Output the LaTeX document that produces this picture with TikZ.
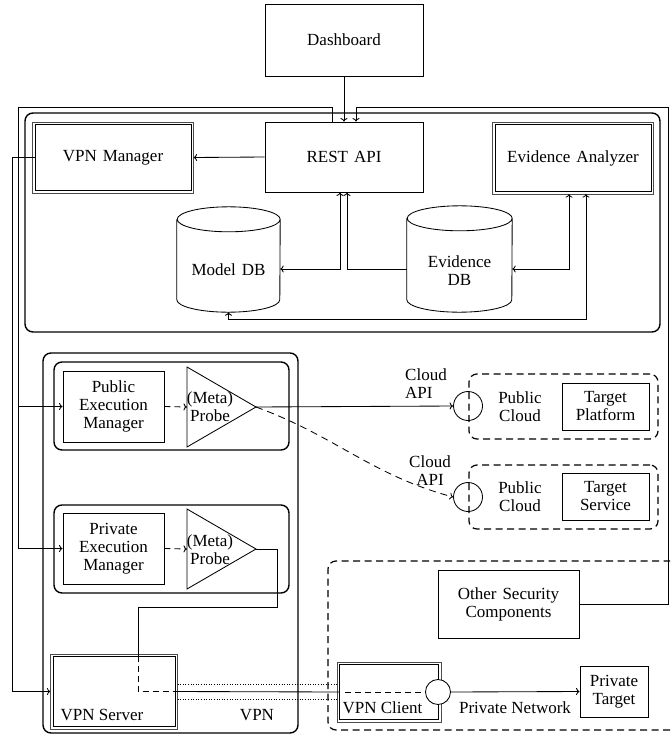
\documentclass[tikz,border=0pt]{standalone}
\usepackage{fontspec}
\setmainfont{Liberation Serif}
\usetikzlibrary{arrows.meta,calc}
\begin{document}
\begin{tikzpicture}[x=1pt,y=1pt,
  every node/.style={font=\fontsize{17}{18}\selectfont, inner sep=0pt, align=center},
  conn/.style={line width=0.85pt},
  arr/.style={conn, -{To[length=3.5pt,width=7pt]}},
  barr/.style={conn, {To[length=3.5pt,width=7pt]}-{To[length=3.5pt,width=7pt]}},
  dsh/.style={dash pattern=on 6pt off 4pt},
  dotl/.style={line width=0.8pt, dash pattern=on 0.8pt off 1.8pt},
  box/.style={draw, line width=0.85pt},
  dbox/.style={draw, line width=0.8pt},
  ring/.style={line width=0.8pt, draw=black!70},
  cont/.style={draw, line width=1.4pt, rounded corners=8pt},
  dcont/.style={draw, line width=1.2pt, rounded corners=8pt, dash pattern=on 7pt off 4.5pt},
  dbnode/.style={inner sep=0pt}
]
\useasboundingbox (0,0) rectangle (670,-736);
\clip (0,0) rectangle (670,-736);
\fill[white] (0,0) rectangle (670,-736);

% containers
\node[cont, minimum width=635, minimum height=219] (core) at (342.5,-222.5) {};
\node[cont, minimum width=255, minimum height=380] (exec) at (170.5,-543) {};
\node[cont, minimum width=235, minimum height=88] (pubbox) at (171.5,-406) {};
\node[cont, minimum width=235, minimum height=88] (privbox) at (171.5,-549) {};
\node[dcont, minimum width=189, minimum height=65] (pc1) at (563.5,-406.5) {};
\node[dcont, minimum width=189, minimum height=64] (pc2) at (563.5,-497) {};
\node[dcont, minimum width=362, minimum height=169] (privnet) at (509,-645.5) {};

% top nodes
\node[box, minimum width=158, minimum height=72] (dash) at (344,-40) {Dashboard};
\node[box, minimum width=158, minimum height=70] (rest) at (344,-157) {REST\hspace{6pt}API};
\node[dbox, minimum width=156, minimum height=66] (vpnm) at (113,-157.5) {VPN\hspace{6pt}Manager};
\draw[ring] ($(vpnm.south west)+(-2.2,-2.2)$) rectangle ($(vpnm.north east)+(2.2,2.2)$);
\node[dbox, minimum width=156, minimum height=67] (evan) at (573,-158) {Evidence\hspace{6pt}Analyzer};
\draw[ring] ($(evan.south west)+(-2.2,-2.2)$) rectangle ($(evan.north east)+(2.2,2.2)$);

% databases
\node[dbnode, minimum width=103, minimum height=105] (mdb) at (228.5,-259.5) {};
\draw[conn] ([yshift=-12.5pt]mdb.north west) -- ([yshift=12.5pt]mdb.south west)
  arc[start angle=180, end angle=360, x radius=51.5pt, y radius=12.5pt]
  -- ([yshift=-12.5pt]mdb.north east)
  arc[start angle=0, end angle=360, x radius=51.5pt, y radius=12.5pt];
\node (mdbt) at (228.5,-270) {Model\hspace{6pt}DB};

\node[dbnode, minimum width=105, minimum height=106] (edb) at (459.5,-259) {};
\draw[conn] ([yshift=-12.5pt]edb.north west) -- ([yshift=12.5pt]edb.south west)
  arc[start angle=180, end angle=360, x radius=52.5pt, y radius=12.5pt]
  -- ([yshift=-12.5pt]edb.north east)
  arc[start angle=0, end angle=360, x radius=52.5pt, y radius=12.5pt];
\node (edbt) at (459.5,-271) {Evidence\\DB};

% execution managers
\node[box, minimum width=101, minimum height=71] (pem) at (113.5,-406.5) {Public\\Execution\\Manager};
\node[box, minimum width=101, minimum height=71] (prem) at (113.5,-548.5) {Private\\Execution\\Manager};

% probes
\coordinate (p1a) at (187,-367);
\coordinate (p1b) at (187,-447);
\coordinate (p1t) at (256,-407);
\coordinate (p1w) at (187,-407);
\draw[conn] (p1a) -- (p1t) -- (p1b) -- cycle;
\node (p1txt) at (210,-407) {(Meta)\\Probe};
\coordinate (p2a) at (187,-509);
\coordinate (p2b) at (187,-589);
\coordinate (p2t) at (256,-549);
\coordinate (p2w) at (187,-549);
\draw[conn] (p2a) -- (p2t) -- (p2b) -- cycle;
\node (p2txt) at (210,-550) {(Meta)\\Probe};

% clouds
\node[draw, conn, circle, minimum size=29] (cloud1) at (468,-406) {};
\node[draw, conn, circle, minimum size=29] (cloud2) at (468,-497) {};
\node[anchor=west, align=left] (capi1) at (405,-384) {Cloud\\API};
\node (capi2) at (430,-471) {Cloud\\API};
\node (pub1) at (520,-407) {Public\\Cloud};
\node (pub2) at (520,-496.5) {Public\\Cloud};
\node[box, minimum width=87, minimum height=47] (tp) at (605.5,-406.5) {Target\\Platform};
\node[box, minimum width=87, minimum height=47] (ts) at (605.5,-496.5) {Target\\Service};

% private network
\node[box, minimum width=141, minimum height=68] (osc) at (508.5,-604) {Other\hspace{6pt}Security\\Components};
\node[box, minimum width=68, minimum height=51] (ptgt) at (614,-691.5) {Private\\Target};
\node (pnet) at (515,-708) {Private Network};

% VPN
\node[dbox, minimum width=122, minimum height=70] (vpns) at (114,-691.5) {};
\draw[ring] ($(vpns.south west)+(-2.2,-2.2)$) rectangle ($(vpns.north east)+(2.2,2.2)$);
\node (vpnst) at (102,-715) {VPN Server};
\node (vpnlab) at (257,-715) {VPN};
\node[dbox, minimum width=99, minimum height=55] (vpnc) at (389,-692) {};
\draw[ring] ($(vpnc.south west)+(-2.2,-2.2)$) rectangle ($(vpnc.north east)+(2.2,2.2)$);
\node (vpnct) at (382.5,-708) {VPN Client};
\node[draw, conn, circle, fill=white, minimum size=25] (vcirc) at (438,-692) {};

% bend coordinates
\coordinate (ltop) at (18,-107);
\coordinate (rtop) at (668,-107);
\coordinate (lleft) at (12,-157);
\coordinate (q1) at (277,-607);
\coordinate (q2) at (138,-607);

% connectors
\draw[arr] (dash.south) -- (rest.north);
\draw[arr] (rest.west) -- ([xshift=2.2pt]vpnm.east);
\draw[barr] ([xshift=-4pt]rest.south) |- ([yshift=-9.5pt]mdb.east);
\draw[arr] ([yshift=-10pt]edb.west) -| ([xshift=3pt]rest.south);
\draw[barr] ([yshift=-10pt]edb.east) -| ([xshift=-4pt,yshift=-2.2pt]evan.south);
\draw[barr] (mdb.south) -- ++(0,-7) -| ([xshift=13pt,yshift=-2.2pt]evan.south);

\draw[arr] ([xshift=-12pt]rest.north) |- (ltop) |- (prem.west);
\draw[arr] (ltop |- pem.west) -- (pem.west);
\draw[arr] (osc.east) -| (rtop) -| ([xshift=12pt]rest.north);
\draw[conn] (vpnm.west) -- (vpnm.west -| lleft);
\draw[arr] (vpnm.west -| lleft) |- ([xshift=-2.2pt]vpns.west);

\draw[arr, dsh] (pem.east) -- (p1w);
\draw[arr, dsh] (prem.east) -- (p2w);
\draw[arr] (p1t) -- (cloud1.west);
\draw[arr, dash pattern=on 7pt off 5pt] (p1t) to[out=-20,in=165] (cloud2.west);

\draw[conn] (p2t) -| (q1) -- (q2) -- (q2 |- vpns.north);
\draw[conn, dsh] (q2 |- vpns.north) |- (vpns.east);
\draw[conn] (vpns.east) -- (vpnc.west);
\draw[dotl] ([xshift=2.2pt,yshift=7.5pt]vpns.east) -- ([xshift=-2.2pt,yshift=7.5pt]vpns.east -| vpnc.west);
\draw[dotl] ([xshift=2.2pt,yshift=-7.5pt]vpns.east) -- ([xshift=-2.2pt,yshift=-7.5pt]vpns.east -| vpnc.west);
\draw[conn, dsh] ([xshift=6pt]vpnc.west) -- (vcirc.west);
\draw[arr] (vcirc.east) -- (ptgt.west);
\end{tikzpicture}
\end{document}
